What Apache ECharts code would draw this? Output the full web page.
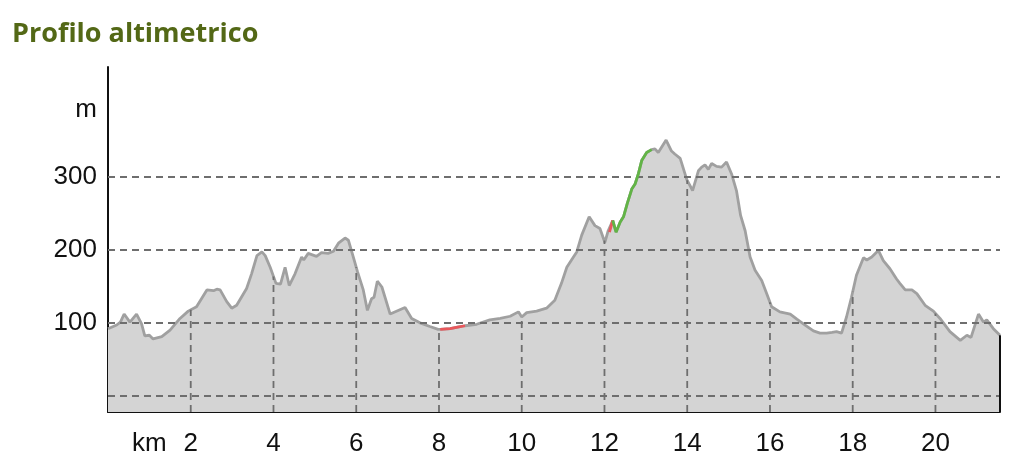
<!DOCTYPE html>
<html><head><meta charset="utf-8">
<script src="https://cdn.jsdelivr.net/npm/echarts@6/dist/echarts.min.js"></script>
<style>html,body{margin:0;padding:0;background:#fff}#c{width:1024px;height:469px}</style>
</head><body><div id="c"></div>
<script>
// Elevation profile: distance (km) and altitude (m)
const profileKm = [0,0.21,0.3,0.39,0.53,0.69,0.81,0.89,1.0,1.09,1.3,1.5,1.74,1.94,2.14,2.39,2.55,2.63,2.71,2.87,2.91,2.99,3.11,3.35,3.47,3.6,3.72,3.8,3.92,4.06,4.17,4.28,4.38,4.52,4.68,4.73,4.84,5.04,5.16,5.32,5.45,5.57,5.73,5.81,5.93,6.03,6.07,6.17,6.27,6.37,6.43,6.51,6.62,6.82,7.18,7.34,7.54,7.78,7.98,8.03,8.27,8.45,8.63,8.91,9.23,9.48,9.72,9.92,10.0,10.12,10.36,10.6,10.8,10.96,11.09,11.25,11.33,11.45,11.63,11.77,11.89,11.93,12.01,12.09,12.12,12.2,12.28,12.38,12.46,12.55,12.66,12.74,12.82,12.9,13.02,13.14,13.22,13.3,13.49,13.62,13.7,13.83,13.99,14.13,14.27,14.35,14.43,14.51,14.59,14.71,14.83,14.95,15.07,15.19,15.29,15.4,15.52,15.64,15.8,15.92,16.04,16.24,16.49,16.65,16.85,17.05,17.21,17.37,17.5,17.61,17.73,17.85,17.97,18.09,18.26,18.34,18.46,18.62,18.74,18.9,19.06,19.14,19.27,19.43,19.55,19.75,19.95,20.11,20.35,20.6,20.76,20.86,21.04,21.16,21.24,21.4,21.56];
const profileM  = [92,97,101,112,101,112,99,82,83,78,81,90,106,116,122,145,144,146,145,129,131,120,124,147,167,192,197,192,176,154,153,176,151,167,190,186,195,191,196,195,198,209,216,213,190,170,172,145,117,133,135,157,149,112,121,106,100,95,91,91,92,94,96,98,104,106,109,115,108,114,116,120,131,154,176,190,197,220,245,233,229,231,210,226,224,240,224,238,245,263,283,290,304,322,333,337,338,333,350,335,331,325,296,281,308,313,316,310,318,314,313,320,304,281,247,226,190,172,158,140,122,115,112,105,97,89,86,86,87,88,86,108,135,165,189,186,190,199,185,174,160,154,145,145,140,124,116,106,88,76,83,80,112,101,104,92,83];

// Highlighted stretches [fromKm, toKm]
const redRanges = [[8.03, 8.63], [12.12, 12.2]];
const greenRanges = [[12.2, 13.14]];

// Axis tick labels
const xLabelKm = [1,2,4,6,8,10,12,14,16,18,20];
const yLabelM = [100,200,300,392];
const yGridM = [0,100,200,300];
const xGridKm = [2,4,6,8,10,12,14,16,18,20];

const Y_MIN = -22, Y_MAX = 450;
const X_MAX = profileKm[profileKm.length-1];

const profile = profileKm.map((k,i)=>[k, profileM[i]]);
function interp(k){
  for (let i=1;i<profileKm.length;i++){
    if (profileKm[i] >= k){
      const k0=profileKm[i-1], k1=profileKm[i];
      const t=(k-k0)/(k1-k0);
      return profileM[i-1] + t*(profileM[i]-profileM[i-1]);
    }
  }
  return profileM[profileM.length-1];
}
function seg(r){ return profile.filter(p => p[0] >= r[0]-1e-9 && p[0] <= r[1]+1e-9); }

const GRID_STYLE = {stroke:'#6e6e6e', lineWidth:1.8, lineDash:[7,5]};

const series = [
  {
    type:'line', data: profile, symbol:'none', z:2,
    lineStyle:{color:'#a0a0a0', width:2.8},
    areaStyle:{color:'#d4d4d4', origin:'start', opacity:1}
  },
  {
    type:'custom', z:4, silent:true,
    data: xGridKm.map(k => [k, interp(k)]),
    renderItem: function(params, api){
      const k = api.value(0), e = api.value(1);
      const p0 = api.coord([k, Y_MIN]), p1 = api.coord([k, e]);
      return {type:'line', shape:{x1:p0[0], y1:p0[1], x2:p1[0], y2:p1[1]},
        style:GRID_STYLE};
    },
    markLine:{
      silent:true, symbol:['none','none'], label:{show:false},
      lineStyle:{color:'#6e6e6e', width:1.8, type:[7,5]},
      data: yGridM.map(v => ({yAxis:v}))
    }
  },
  {
    type:'custom', z:6, silent:true,
    data: [[X_MAX, profileM[profileM.length-1]]],
    renderItem: function(params, api){
      const k = api.value(0), e = api.value(1);
      const p0 = api.coord([k, Y_MIN]), p1 = api.coord([k, e]);
      return {type:'line', shape:{x1:p0[0], y1:p0[1], x2:p1[0], y2:p1[1]},
        style:{stroke:'#111', lineWidth:2}};
    }
  }
];
redRanges.forEach(r => series.push({type:'line', data: seg(r), symbol:'none', z:5,
  lineStyle:{color:'#e8585c', width:2.8}}));
greenRanges.forEach(r => series.push({type:'line', data: seg(r), symbol:'none', z:5,
  lineStyle:{color:'#62b446', width:2.8}}));

const chart = echarts.init(document.getElementById('c'), null, {renderer:'canvas'});
chart.setOption({
  animation:false,
  backgroundColor:'#fff',
  title:{text:'Profilo altimetrico', left:7, top:16,
    textStyle:{fontFamily:'Open Sans', fontWeight:'bold', fontSize:27, color:'#536816'}},
  grid:{left:108, right:24, top:67, bottom:57, containLabel:false},
  xAxis:{type:'value', min:0, max:X_MAX,
    axisLine:{show:true, onZero:false, lineStyle:{color:'#111', width:2}},
    axisTick:{show:false}, splitLine:{show:false},
    axisLabel:{customValues:xLabelKm, formatter: v => v===1 ? 'km' : String(v),
      fontFamily:'Liberation Sans', fontSize:26, color:'#111', margin:19}
  },
  yAxis:{type:'value', min:Y_MIN, max:Y_MAX,
    axisLine:{show:true, lineStyle:{color:'#111', width:2}},
    axisTick:{show:false}, splitLine:{show:false},
    axisLabel:{customValues:yLabelM, formatter: v => v>350 ? 'm' : String(v),
      fontFamily:'Liberation Sans', fontSize:26, color:'#111', margin:11}
  },
  series: series
});
</script></body></html>
